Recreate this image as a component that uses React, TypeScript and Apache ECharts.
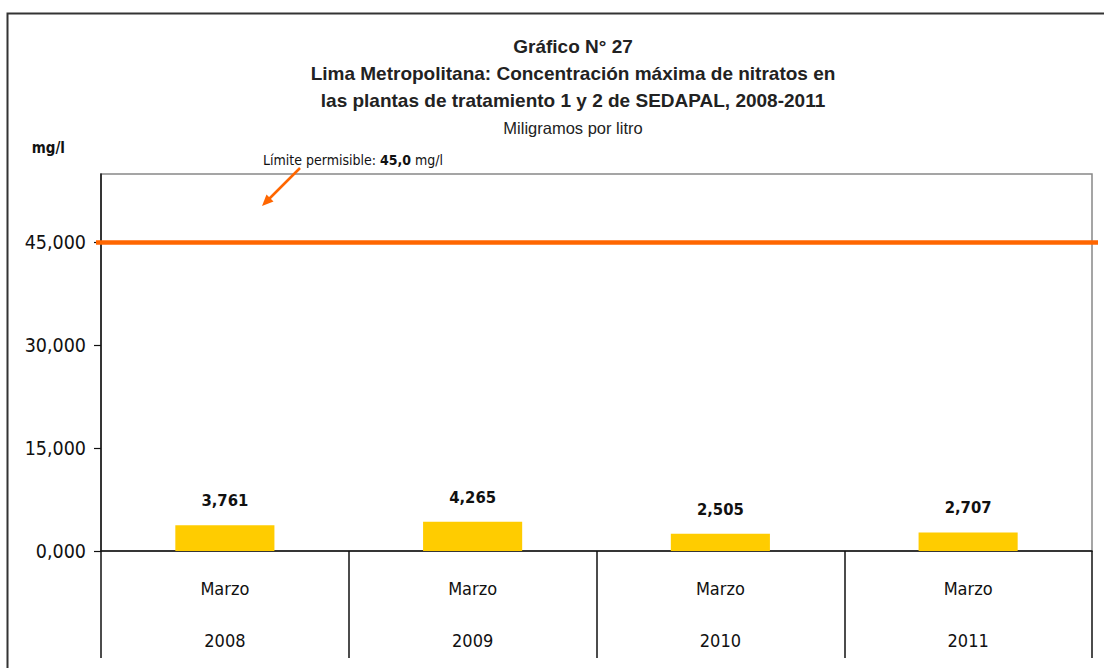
import React, { useEffect, useRef } from "react";
import * as echarts from "echarts";

const categories = ["2008", "2009", "2010", "2011"];
const months = ["Marzo", "Marzo", "Marzo", "Marzo"];
const values = [3.761, 4.265, 2.505, 2.707];
const limitValue = 45.0;
const yTicks = [0, 15, 30, 45];
const yMax = 55;

const NARROW = "'Liberation Sans Narrow', 'DejaVu Sans Condensed', Roboto, sans-serif";
const SANS = "'Liberation Sans', Arial, sans-serif";

const fmt3 = (v: number) => v.toFixed(3).replace(".", ",");

export default function App() {
  const ref = useRef<HTMLDivElement>(null);
  useEffect(() => {
    if (!ref.current) return;
    const chart = echarts.init(ref.current, null, { renderer: "svg" });
    chart.setOption({
      animation: false,
      backgroundColor: "#ffffff",
      title: {
        left: 568,
        top: 28,
        textAlign: "center",
        text:
          "{b|Gráfico N° 27}\n{b|Lima Metropolitana: Concentración máxima de nitratos en}\n{b|las plantas de tratamiento 1 y 2 de SEDAPAL, 2008-2011}\n{r|Miligramos por litro}",
        textStyle: {
          fontWeight: "normal",
          rich: {
            b: { fontFamily: SANS, fontSize: 19, fontWeight: "bold", color: "#222", lineHeight: 27 },
            r: { fontFamily: SANS, fontSize: 16.5, fontWeight: "normal", color: "#222", lineHeight: 27 },
          },
        },
      },
      grid: {
        left: 101,
        right: 12,
        top: 174,
        bottom: 117,
        show: true,
        borderColor: "#888",
        borderWidth: 1.5,
      },
      xAxis: {
        type: "category",
        data: categories,
        axisLine: { lineStyle: { color: "#111", width: 1.5 } },
        axisTick: { show: true, length: 107, alignWithLabel: false, lineStyle: { color: "#111", width: 1.5 } },
        axisLabel: {
          margin: 11,
          formatter: (value: string, index: number) => `{m|${months[index]}}\n{y|${value}}`,
          rich: {
            m: { fontFamily: NARROW, fontSize: 18, color: "#111", lineHeight: 52 },
            y: { fontFamily: NARROW, fontSize: 18, color: "#111", lineHeight: 52 },
          },
        },
      },
      yAxis: {
        type: "value",
        min: 0,
        max: yMax,
        interval: 15,
        name: "mg/l",
        nameLocation: "end",
        nameGap: 26,
        nameTextStyle: {
          fontFamily: NARROW,
          fontSize: 15,
          fontWeight: "bold",
          color: "#111",
          align: "right",
          verticalAlign: "middle",
          padding: [0, 36, 0, 0],
        },
        splitLine: { show: false },
        axisLine: { show: true, lineStyle: { color: "#111", width: 1.5 } },
        axisTick: { show: true, length: 7, customValues: yTicks, lineStyle: { color: "#111", width: 1.2 } },
        axisLabel: {
          customValues: yTicks,
          margin: 15,
          fontFamily: NARROW,
          fontSize: 19.5,
          color: "#111",
          formatter: (v: number) => fmt3(v),
        },
      },
      series: [
        {
          type: "bar",
          data: values,
          barWidth: "40%",
          itemStyle: { color: "#FFCC00" },
          label: {
            show: true,
            position: "top",
            distance: 16,
            fontFamily: NARROW,
            fontSize: 16.5,
            fontWeight: "bold",
            color: "#111",
            formatter: (p: any) => fmt3(p.value),
          },
          markLine: {
            silent: true,
            symbol: ["none", "none"],
            label: { show: false },
            lineStyle: { color: "#FF6600", width: 4.5, type: "solid" },
            data: [[{ x: 96, yAxis: limitValue }, { x: 1098, yAxis: limitValue }]],
          },
        },
      ],
      graphic: [
        {
          type: "rect",
          z: -1,
          shape: { x: 7.5, y: 13.5, width: 1200, height: 700 },
          style: { fill: "none", stroke: "#333", lineWidth: 2 },
        },
        {
          type: "text",
          x: 263,
          y: 160,
          style: {
            text: "{a|Límite permisible: }{b|45,0}{a| mg/l}",
            verticalAlign: "middle",
            fill: "#111",
            rich: {
              a: { fontFamily: NARROW, fontSize: 14, fill: "#111", color: "#111" },
              b: { fontFamily: NARROW, fontSize: 14, fontWeight: "bold", fill: "#111", color: "#111" },
            },
          },
        },
        {
          type: "line",
          shape: { x1: 300, y1: 168, x2: 269, y2: 199 },
          style: { stroke: "#FF6600", lineWidth: 2.5 },
        },
        {
          type: "polygon",
          shape: { points: [[262, 206], [273.5, 201.5], [266.5, 194.5]] },
          style: { fill: "#FF6600" },
        },
      ],
    });
    return () => chart.dispose();
  }, []);
  return (
    <div
      ref={ref}
      style={{ position: "fixed", left: 0, top: 0, width: 1104, height: 668 }}
    />
  );
}
